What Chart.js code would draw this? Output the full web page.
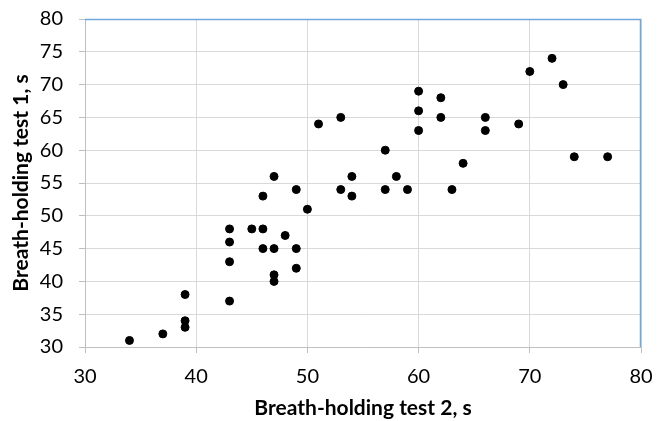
<!DOCTYPE html>
<html>
<head>
<meta charset="utf-8">
<script src="https://cdn.jsdelivr.net/npm/chart.js@4"></script>
<style>
  html, body { margin: 0; padding: 0; background: #fff; }
  #wrap { width: 667px; height: 421px; }
</style>
</head>
<body>
<div id="wrap"><canvas id="chart" width="667" height="421"></canvas></div>
<script>
// breath-holding test 2 (x) vs test 1 (y), seconds
var test2 = [34, 37, 39, 39, 39, 43, 43, 43, 43, 45, 46, 46, 46, 47, 47, 47, 47, 48, 49, 49, 49, 50,
             51, 53, 53, 54, 54, 57, 57, 58, 59, 60, 60, 60, 62, 62, 63, 64, 66, 66, 69, 70, 72, 73, 74, 77];
var test1 = [31, 32, 38, 34, 33, 48, 46, 43, 37, 48, 53, 48, 45, 56, 45, 41, 40, 47, 54, 45, 42, 51,
             64, 65, 54, 56, 53, 60, 54, 56, 54, 69, 66, 63, 68, 65, 54, 58, 65, 63, 64, 72, 74, 70, 59, 59];
var xTicks = [30, 40, 50, 60, 70, 80];
var yTicks = [30, 35, 40, 45, 50, 55, 60, 65, 70, 75, 80];

var points = [];
for (var i = 0; i < test2.length; i++) {
  points.push({ x: test2[i], y: test1[i] });
}

// blue frame on top and right of plot area, like the original
var frame = {
  id: 'frame',
  afterDraw: function(chart) {
    var a = chart.chartArea, ctx = chart.ctx;
    ctx.save();
    ctx.strokeStyle = '#6fa8dc';
    ctx.lineWidth = 1.5;
    ctx.beginPath();
    ctx.moveTo(a.left, a.top + 0.5);
    ctx.lineTo(a.right - 0.5, a.top + 0.5);
    ctx.lineTo(a.right - 0.5, a.bottom);
    ctx.stroke();
    ctx.restore();
  }
};

Chart.defaults.font.family = 'Lato, "Liberation Sans", sans-serif';
Chart.defaults.color = '#000';

new Chart(document.getElementById('chart'), {
  type: 'scatter',
  data: {
    datasets: [{
      label: 'Breath-holding',
      data: points,
      backgroundColor: '#000',
      borderColor: '#000',
      pointRadius: 4,
      pointHoverRadius: 4
    }]
  },
  options: {
    responsive: false,
    animation: false,
    layout: { padding: { top: 19, right: 26, left: 0, bottom: 0 } },
    plugins: { legend: { display: false }, tooltip: { enabled: false } },
    scales: {
      x: {
        type: 'linear',
        min: 30, max: 80,
        afterBuildTicks: function(s) { s.ticks = xTicks.map(function(v) { return { value: v }; }); },
        afterFit: function(s) { s.height = 74; s.paddingLeft = 0; s.paddingRight = 0; },
        grid: { color: '#d9d9d9', tickLength: 6, tickColor: '#bfbfbf' },
        border: { color: '#bfbfbf' },
        ticks: { font: { size: 20 }, padding: 12, maxRotation: 0 },
        title: {
          display: true,
          text: 'Breath-holding test 2, s',
          font: { size: 21, weight: 'bold' },
          padding: { top: 4, bottom: 0 }
        }
      },
      y: {
        type: 'linear',
        min: 30, max: 80,
        afterBuildTicks: function(s) { s.ticks = yTicks.map(function(v) { return { value: v }; }); },
        afterFit: function(s) { s.width = 85; s.paddingTop = 0; s.paddingBottom = 0; },
        grid: { color: '#d9d9d9', tickLength: 6, tickColor: '#bfbfbf' },
        border: { color: '#bfbfbf' },
        ticks: { font: { size: 20 }, padding: 16 },
        title: {
          display: true,
          text: 'Breath-holding test 1, s',
          font: { size: 21, weight: 'bold' },
          padding: { top: 9, bottom: 4 }
        }
      }
    }
  },
  plugins: [frame]
});
</script>
</body>
</html>
